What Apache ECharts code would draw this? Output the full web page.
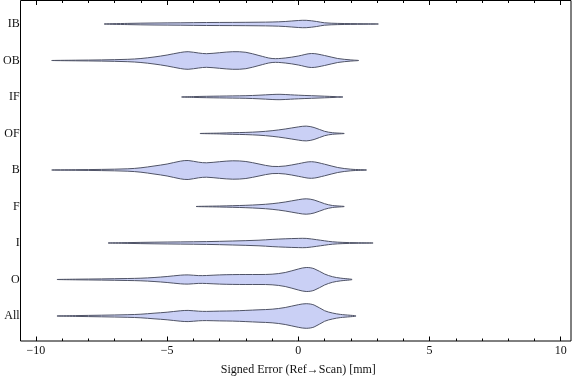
<!DOCTYPE html>
<html>
<head>
<meta charset="utf-8">
<script src="https://cdn.jsdelivr.net/npm/echarts@6/dist/echarts.min.js"></script>
<style>html,body{margin:0;padding:0;background:#fff;}#c{width:576px;height:381px;}</style>
</head>
<body>
<div id="c"></div>
<script>
// Categories, bottom to top
const categories = ['All', 'O', 'I', 'F', 'B', 'OF', 'IF', 'OB', 'IB'];
const xTicks = [-10, -5, 0, 5, 10];

// Violin profiles: [signed error (mm), density (relative half-width)]
const profAll = [[-9.2,0],[-8.5,0.4],[-7.5,0.8],[-6.5,1.3],[-6,1.8],[-5.5,2.8],[-5,3.8],[-4.5,5.2],[-4.2,5.6],[-3.8,4.8],[-3.5,4.6],[-3,4.9],[-2.5,5.1],[-2,5.6],[-1.5,6.2],[-1,6.8],[-0.5,8.5],[0,11.3],[0.3,12.3],[0.6,11],[1,5.3],[1.3,3],[1.6,1.6],[2.2,0]];
const profO = [[-9.2,0],[-8.5,0.3],[-7.5,0.6],[-6.5,1.0],[-6,1.3],[-5.5,2],[-5,3],[-4.5,4.3],[-4.2,4.6],[-3.8,3.9],[-3.5,4],[-3,4.6],[-2.5,4.9],[-2,5],[-1.5,5],[-1,5.3],[-0.5,7],[0,10.5],[0.3,12],[0.6,10.8],[1,5.5],[1.3,2.8],[1.6,1.4],[2.05,0]];
const profI = [[-7.25,0],[-6.5,0.4],[-5.5,0.8],[-4.5,1.1],[-3.5,1.4],[-2.5,2],[-1.5,2.8],[-1,3.6],[-0.5,4.2],[0,4.6],[0.3,4.6],[0.7,3.3],[1,2.2],[1.3,1.2],[1.7,0.6],[2.2,0.3],[2.85,0]];
const profF = [[-3.9,0],[-3,0.5],[-2.5,0.8],[-2,1.2],[-1.5,1.8],[-1,2.8],[-0.5,4.5],[0,6.8],[0.3,7.7],[0.6,6.5],[1,2.8],[1.3,1.0],[1.75,0]];
const profB = [[-9.4,0],[-8.5,0.3],[-7.5,0.6],[-6.5,1.2],[-6,2.2],[-5.5,4],[-5,6],[-4.5,8.8],[-4.2,9.5],[-3.8,7.8],[-3.5,7.2],[-3,8.3],[-2.5,9.2],[-2,8.5],[-1.5,6],[-1,3.6],[-0.5,4],[0,6.3],[0.5,8.3],[1,5.8],[1.5,2.5],[2,0.8],[2.6,0]];
const profOF = [[-3.75,0],[-3,0.4],[-2.5,0.8],[-2,1.1],[-1.5,1.7],[-1,2.8],[-0.5,4.5],[0,6.6],[0.3,7.4],[0.6,6],[1,2.2],[1.3,0.8],[1.75,0]];
const profIF = [[-4.45,0],[-4,0.4],[-3.5,0.7],[-3,0.9],[-2.5,1.1],[-2,1.3],[-1.5,1.8],[-1,2.5],[-0.7,2.7],[-0.3,2.2],[0,1.8],[0.5,1.3],[1,0.8],[1.4,0.4],[1.7,0]];
const profOB = [[-9.4,0],[-8.5,0.3],[-7.5,0.6],[-6.5,1.2],[-6,2],[-5.5,3.5],[-5,5.5],[-4.5,8],[-4.2,8.8],[-3.8,7.5],[-3.5,6.8],[-3,7.8],[-2.5,8.8],[-2,8.2],[-1.5,5],[-1,2],[-0.5,2.5],[0,4.5],[0.5,7],[1,5],[1.5,2],[2,0.6],[2.3,0]];
const profIB = [[-7.4,0],[-6.5,0.6],[-5.5,1],[-4.5,1.2],[-3.5,1.5],[-2.5,1.6],[-1.5,1.8],[-1,2],[-0.5,2.5],[0,3.5],[0.3,3.7],[0.7,2.5],[1,1.2],[1.5,0.6],[2,0.4],[2.5,0.25],[3.05,0]];

const profiles = [profAll, profO, profI, profF, profB, profOF, profIF, profOB, profIB];
const densityPerBand = 36.5; // density units per category band

const chart = echarts.init(document.getElementById('c'), null, {renderer: 'canvas'});
const FONT = "'Liberation Serif', 'DejaVu Serif', serif";
const fmt = v => v < 0 ? '\u2212' + Math.abs(v) : String(v);

function renderItem(params, api) {
  const idx = params.dataIndex;
  const prof = profiles[idx];
  const band = api.size([0, 1])[1];
  const top = [], bottom = [];
  prof.forEach((p, i) => {
    const c = api.coord([p[0], idx]);
    const h = p[1] / densityPerBand * band;
    top.push([c[0], c[1] - h]);
    if (i > 0 && i < prof.length - 1) bottom.push([c[0], c[1] + h]);
  });
  const pts = top.concat(bottom.reverse());
  return {
    type: 'polygon',
    shape: {points: pts, smooth: 0.35},
    style: {fill: '#cad0f5', stroke: '#4f5366', lineWidth: 1}
  };
}

const tickStyle = {color: '#000', width: 1};
const option = {
  animation: false,
  grid: {left: 31.3, right: 15.3, top: 5.75, bottom: 46.75, containLabel: false},
  xAxis: [
    {
      type: 'value', min: xTicks[0], max: xTicks[xTicks.length - 1], interval: 5,
      position: 'bottom', offset: 6.75,
      axisLine: {show: false},
      axisTick: {show: true, inside: true, length: 4.5, lineStyle: tickStyle},
      minorTick: {show: true, splitNumber: 5, length: 2.5, lineStyle: tickStyle},
      splitLine: {show: false},
      axisLabel: {formatter: fmt, fontFamily: FONT, fontSize: 12, color: '#111', margin: 4},
      name: 'Signed Error (Ref\u2192Scan) [mm]', nameLocation: 'middle', nameGap: 23,
      nameTextStyle: {fontFamily: FONT, fontSize: 12, color: '#111'}
    },
    {
      type: 'value', min: xTicks[0], max: xTicks[xTicks.length - 1], interval: 5,
      position: 'top', offset: 5.25,
      axisLine: {show: false},
      axisTick: {show: true, inside: true, length: 4.5, lineStyle: tickStyle},
      minorTick: {show: true, splitNumber: 5, length: 2.5, lineStyle: tickStyle},
      splitLine: {show: false},
      axisLabel: {show: false}
    }
  ],
  yAxis: [
    {
      type: 'category', data: categories, position: 'left', offset: 11.3,
      boundaryGap: true,
      axisLine: {show: false},
      axisTick: {show: true, inside: true, length: 4, alignWithLabel: true, lineStyle: tickStyle},
      axisLabel: {fontFamily: FONT, fontSize: 12, color: '#111', margin: 5},
      splitLine: {show: false}
    },
    {
      type: 'category', data: categories, position: 'right', offset: 10.3,
      boundaryGap: true,
      axisLine: {show: false},
      axisTick: {show: true, inside: true, length: 4, alignWithLabel: true, lineStyle: tickStyle},
      axisLabel: {show: false},
      splitLine: {show: false}
    }
  ],
  graphic: [{
    type: 'rect', silent: true, z: 100,
    shape: {x: 20.5, y: 0.5, width: 550.5, height: 340.5},
    style: {fill: null, stroke: '#000', lineWidth: 1}
  }],
  series: [{
    type: 'custom',
    xAxisIndex: 0, yAxisIndex: 0,
    renderItem: renderItem,
    encode: {x: 0, y: 1},
    clip: false,
    data: categories.map((c, i) => [0, i])
  }]
};
chart.setOption(option);
</script>
</body>
</html>
